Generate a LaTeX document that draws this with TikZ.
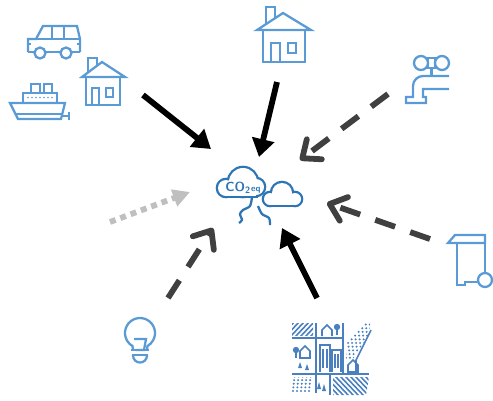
\documentclass[tikz,border=0pt]{standalone}
\usepackage{tikz}
\usetikzlibrary{arrows.meta}

\definecolor{IconBlue}{RGB}{91, 155, 213}
\definecolor{CloudBlue}{RGB}{46, 117, 182}
\definecolor{CityBlue}{RGB}{74, 128, 192}
\definecolor{ArrowGray}{RGB}{64, 64, 64}
\definecolor{LightGray}{RGB}{191, 191, 191}

\begin{document}
\begin{tikzpicture}[
        x=0.02cm, y=-0.02cm,
        icon/.style={draw=IconBlue, line width=1.3pt},
        city/.style={draw=CityBlue, line width=0.9pt},
        solid arrow/.style={-{Triangle[length=0.36cm, width=0.44cm]}, line width=3.3pt, black},
        dashed arrow/.style={-{Straight Barb[length=0.3cm, width=0.5cm, round]}, line width=3.3pt, ArrowGray, dash pattern=on 0.42cm off 0.32cm},
        dotted arrow/.style={-{Triangle[length=0.34cm, width=0.34cm]}, line width=3.3pt, LightGray, dash pattern=on 0.12cm off 0.1cm}
    ]
        \useasboundingbox (0,0) rectangle (493,400);

        % Car
        \draw[icon] (28,52) -- (28,39) -- (36,39) -- (43,26) -- (77,26) -- (80,39) -- (80,52);
        \draw[icon] (28,52) -- (80,52);
        \draw[icon] (36,39) -- (80,39);
        \draw[icon] (52,26) -- (52,39) (64,26) -- (64,39);
        \draw[icon] (28,44) -- (31,44) (77,44) -- (80,44);
        \filldraw[icon, fill=white] (40,53) circle[radius=5.5];
        \filldraw[icon, fill=white] (66,53) circle[radius=5.5];

        % Small house
        \draw[icon] (88,72.5) -- (88,58) -- (97,58) -- (97,65.8);
        \draw[icon] (82,77) -- (102,62) -- (125,77) -- cycle;
        \draw[icon] (86,77) -- (86,105) -- (120,105) -- (120,77);
        \draw[icon] (92,105) -- (92,88) -- (99,88) -- (99,105);
        \draw[icon] (106,88) rectangle (113,97);

        % Ship
        \draw[icon] (10,103) -- (65,103) -- (61,119) -- (18,119) -- cycle;
        \draw[icon] (16,114) -- (63,114);
        \draw[icon] (62,116) -- (69,116) (69,112) -- (69,120);
        \draw[icon] (23,103) -- (23,93) -- (57,93) -- (57,103);
        \draw[icon] (31,93) -- (31,84) -- (40,84) -- (40,93);
        \draw[icon] (44,93) -- (44,84) -- (52,84) -- (52,93);
        \foreach \i in {28,32,...,52}
            \fill[IconBlue] (\i,97.5) circle[radius=0.9];

        % Big house
        \draw[icon] (266,24.1) -- (266,7) -- (275,7) -- (275,18.2);
        \draw[icon] (257,30) -- (283,13) -- (311,30) -- cycle;
        \draw[icon] (263,30) -- (263,62) -- (305,62) -- (305,30);
        \draw[icon] (271,62) -- (271,43) -- (280,43) -- (280,62);
        \draw[icon] (288,43) rectangle (296,53);

        % Water tap
        \draw[icon] (421,63) circle[radius=7];
        \draw[icon] (442,63) circle[radius=7];
        \draw[icon] (428,58) rectangle (435,68);
        \draw[icon] (431.5,68) -- (431.5,76);
        \draw[icon] (449,89) -- (423,89) -- (423,97) -- (426,97) -- (426,103) -- (406,103) -- (406,97) -- (413,97)
            -- (413,86) arc[start angle=180, end angle=270, radius=10] -- (449,76);

        % Waste bin
        \draw[icon] (455,235) -- (485,235) -- (485,243) -- (448,243) -- cycle;
        \draw[icon] (457,243) -- (457,285) -- (465,285) -- (465,282) -- (478,282);
        \draw[icon] (485,243) -- (485,273);
        \draw[icon] (485,280) circle[radius=7];

        % Light bulb
        \draw[icon] (133,350) -- (132.5,346) arc[start angle=120, end angle=420, radius=15] -- (147,350);
        \draw[icon] (134,339) -- (146,339) -- (144,350) -- (136,350);
        \draw[icon] (131,350) -- (149,350) (132,355) -- (148,355);
        \draw[icon] (133,355) .. controls (133,365) and (147,365) .. (147,355);

        % City block
        \begin{scope}
            \clip (292,323) rectangle (313,335);
            \foreach \i in {280,285,...,320}
                \draw[city] (\i,337) -- (\i+15,321);
        \end{scope}
        \begin{scope}
            \clip (346,323) -- (371,323) -- (368,336) -- (353,359) -- (346,359) -- cycle;
            \foreach \i in {330,334,...,380}
                \draw[city, dotted] (\i,362) -- (\i+40,320);
        \end{scope}
        \begin{scope}
            \clip (292,377) -- (313,377) -- (311,393) -- (292,393) -- cycle;
            \foreach \i in {270,274,...,320}
                \draw[city, dotted] (\i,376) -- (\i+18,394);
        \end{scope}
        \begin{scope}
            \clip (333,377) -- (369,377) -- (366,395) -- (333,395) -- cycle;
            \foreach \i in {310,315,...,370}
                \draw[city] (\i,376) -- (\i+19,396);
        \end{scope}
        \draw[city] (292,338) -- (343,338);
        \draw[city] (316,323) -- (316,393);
        \draw[city] (343,323) -- (343,374);
        \draw[city] (292,374) -- (369,374);
        \draw[city] (330,374) -- (330,395);
        \draw[city] (371,330) -- (356,360) -- (356,374);
        \draw[city] (322,336) -- (322,330) -- (327,325) -- (332,330) -- (332,336);
        \fill[CityBlue] (337,327) circle[radius=3.2];
        \draw[city] (337,328) -- (337,335);
        \draw[city] (300,358) -- (300,351) -- (305,346) -- (310,351) -- (310,358) -- cycle;
        \fill[CityBlue] (296,350) circle[radius=3.2];
        \draw[city] (296,351) -- (296,358);
        \draw[city] (348,372) -- (348,365) -- (353,360) -- (358,365) -- (358,372) -- cycle;
        \draw[city] (320,372) -- (320,345) -- (330,345) -- (330,372);
        \draw[city] (332,372) -- (332,350) -- (341,350) -- (341,372);
        \draw[city] (323,349) -- (323,368) (327,349) -- (327,368) (335,354) -- (335,368) (338,354) -- (338,368);
        \fill[CityBlue] (298,368) -- (300,362) -- (302,368) -- cycle;
        \fill[CityBlue] (305,370) -- (307,364) -- (309,370) -- cycle;
        \fill[CityBlue] (317,389) -- (319,382) -- (321,389) -- cycle;
        \fill[CityBlue] (322,391) -- (324,384) -- (326,391) -- cycle;

        % CO2 cloud
        \begin{scope}[line width=2.6pt, CloudBlue]
            \draw (226,188) circle[radius=8];
            \draw (243,182) circle[radius=14];
            \draw (256,187) circle[radius=8];
            \draw (226,186) rectangle (256,196);
        \end{scope}
        \begin{scope}[white]
            \fill (226,188) circle[radius=8];
            \fill (243,182) circle[radius=14];
            \fill (256,187) circle[radius=8];
            \fill (226,186) rectangle (256,196);
        \end{scope}
        \begin{scope}[line width=2.6pt, CloudBlue]
            \draw (270,199) circle[radius=6];
            \draw (282,193) circle[radius=10];
            \draw (295,199) circle[radius=6];
            \draw (270,197) rectangle (295,205);
        \end{scope}
        \begin{scope}[white]
            \fill (270,199) circle[radius=6];
            \fill (282,193) circle[radius=10];
            \fill (295,199) circle[radius=6];
            \fill (270,197) rectangle (295,205);
        \end{scope}
        \node[CloudBlue, font=\fontsize{7.5}{8}\sffamily\bfseries] (co2) at (243,188) {CO\textsubscript{2}{\tiny eq}};
        \draw[CloudBlue, line width=1.3pt] plot[smooth] coordinates {(252,197) (250,206) (243,210) (240,214) (242,220) (239,223)};
        \draw[CloudBlue, line width=1.3pt] plot[smooth] coordinates {(258,206) (262,214) (269,218) (270,225)};

        % arrow ends
        \coordinate (carTail) at (143,95);
        \coordinate (carTip) at (211,149);
        \coordinate (houseTail) at (277,82);
        \coordinate (houseTip) at (259,157);
        \coordinate (tapTail) at (388,94);
        \coordinate (tapTip) at (300,160);
        \coordinate (binTail) at (430,239);
        \coordinate (binTip) at (327,203);
        \coordinate (cityTail) at (317,298);
        \coordinate (cityTip) at (282,228);
        \coordinate (bulbTail) at (168,298);
        \coordinate (bulbTip) at (213,228);
        \coordinate (otherTail) at (110,222);
        \coordinate (otherTip) at (190,192);

        \draw[solid arrow] (carTail) -- (carTip);
        \draw[solid arrow] (houseTail) -- (houseTip);
        \draw[solid arrow] (cityTail) -- (cityTip);
        \draw[dashed arrow] (tapTail) -- (tapTip);
        \draw[dashed arrow] (binTail) -- (binTip);
        \draw[dashed arrow] (bulbTail) -- (bulbTip);
        \draw[dotted arrow] (otherTail) -- (otherTip);
    \end{tikzpicture}
\end{document}
